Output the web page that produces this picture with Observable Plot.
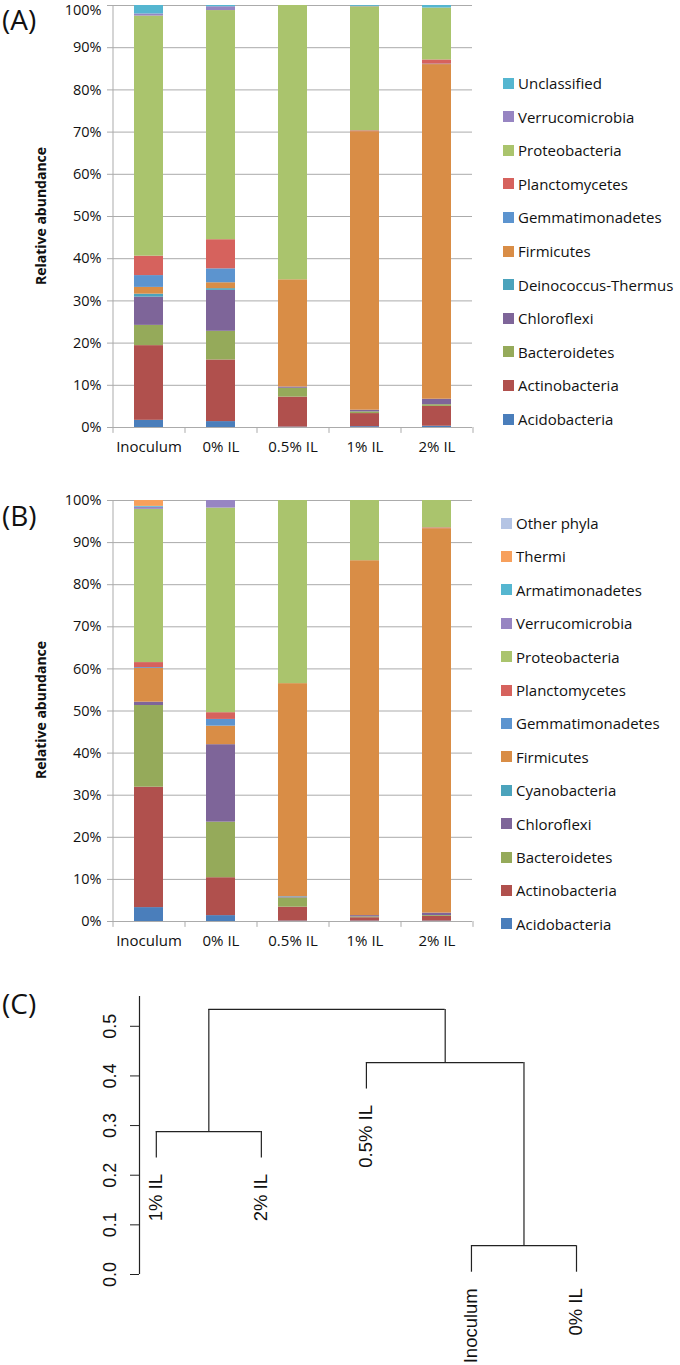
<!DOCTYPE html>
<html><head><meta charset="utf-8">
<script src="https://cdn.jsdelivr.net/npm/d3@7"></script>
<script src="https://cdn.jsdelivr.net/npm/@observablehq/plot@0.6"></script>
<style>
body{margin:0;background:#fff;}
#root{position:relative;width:680px;height:1365px;overflow:hidden;font-family:"Open Sans",sans-serif;color:#111;background:#fff;}
.panel{position:absolute;left:0;}
.tag{position:absolute;left:2px;font-family:"Open Sans",sans-serif;font-size:28px;line-height:normal;color:#111;}
.ytitle{position:absolute;font-family:"Open Sans",sans-serif;font-weight:bold;font-size:14px;white-space:nowrap;transform:translate(-50%,-50%) rotate(-90deg);}
.leg{position:absolute;display:flex;align-items:center;height:20px;font-size:15px;white-space:nowrap;color:#111;}
.sw{width:11px;height:11px;margin-right:4px;flex:none;}
</style></head><body><div id="root"></div>
<script>
// ---------- DATA ----------
const samples = ["Inoculum", "0% IL", "0.5% IL", "1% IL", "2% IL"];

// Panel A: phyla from bottom of stack to top
const phylaA = ["Acidobacteria", "Actinobacteria", "Bacteroidetes", "Chloroflexi", "Deinococcus-Thermus",
  "Firmicutes", "Gemmatimonadetes", "Planctomycetes", "Proteobacteria", "Verrucomicrobia", "Unclassified"];
const colorsA = ["#4A7EBB", "#B0504D", "#95AA5A", "#7E6599", "#4BA3BC",
  "#D98D46", "#5C94CF", "#D6625D", "#AAC46D", "#9785C2", "#55B6D0"];
// % relative abundance, one row per phylum, columns = samples
const abundanceA = [
  [1.7, 1.4, 0.1, 0.2, 0.3],
  [17.7, 14.6, 7.1, 3.1, 4.7],
  [4.8, 6.8, 2.1, 0.4, 0.4],
  [6.7, 9.7, 0.3, 0.4, 1.3],
  [0.7, 0.4, 0, 0, 0],
  [1.6, 1.4, 25.4, 66.0, 79.3],
  [2.8, 3.3, 0, 0, 0.1],
  [4.6, 6.9, 0, 0.2, 1.0],
  [56.9, 54.3, 65.0, 29.4, 12.3],
  [0.5, 0.9, 0, 0.1, 0],
  [2.0, 0.3, 0, 0.2, 0.6]
];

// Panel B
const phylaB = ["Acidobacteria", "Actinobacteria", "Bacteroidetes", "Chloroflexi", "Cyanobacteria",
  "Firmicutes", "Gemmatimonadetes", "Planctomycetes", "Proteobacteria", "Verrucomicrobia",
  "Armatimonadetes", "Thermi", "Other phyla"];
const colorsB = ["#4A7EBB", "#B0504D", "#95AA5A", "#7E6599", "#4BA3BC",
  "#D98D46", "#5C94CF", "#D6625D", "#AAC46D", "#9785C2",
  "#55B6D0", "#F7A05C", "#B4C4E4"];
const abundanceB = [
  [3.3, 1.4, 0.1, 0.1, 0.1],
  [28.6, 9.0, 3.3, 0.8, 1.1],
  [19.4, 13.2, 2.2, 0.2, 0.2],
  [0.8, 18.4, 0.2, 0.3, 0.6],
  [0, 0, 0.1, 0, 0],
  [8.0, 4.4, 50.6, 84.3, 91.3],
  [0.2, 1.6, 0, 0, 0],
  [1.2, 1.6, 0, 0, 0.2],
  [36.4, 48.6, 43.5, 14.3, 6.5],
  [0.5, 1.8, 0, 0, 0],
  [0.2, 0, 0, 0, 0],
  [1.4, 0, 0, 0, 0],
  [0, 0, 0, 0, 0]
];
const yTicksPct = [0, 10, 20, 30, 40, 50, 60, 70, 80, 90, 100];

// Panel C: dendrogram (hclust-style)
const leafOrder = ["1% IL", "2% IL", "0.5% IL", "Inoculum", "0% IL"];
const mergeLeft = ["Inoculum", "1% IL", "0.5% IL", 2];   // numbers refer to earlier merges (1-based)
const mergeRight = ["0% IL", "2% IL", 1, 3];
const mergeHeight = [0.058, 0.288, 0.427, 0.534];
const dendroTicks = [0, 0.1, 0.2, 0.3, 0.4, 0.5];

// ---------- RENDER ----------
const root = document.getElementById("root");
const gray = "#ababab";

function addTag(text, top) {
  const d = document.createElement("div");
  d.className = "tag"; d.textContent = text; d.style.top = top + "px";
  root.appendChild(d);
}
function addYTitle(text, cx, cy) {
  const d = document.createElement("div");
  d.className = "ytitle"; d.textContent = text;
  d.style.left = cx + "px"; d.style.top = cy + "px";
  root.appendChild(d);
}
function addLegend(phyla, colors, x, yStart, step) {
  const n = phyla.length;
  for (let k = 0; k < n; k++) {
    const i = n - 1 - k; // top of legend = top of stack
    const row = document.createElement("div");
    row.className = "leg";
    row.style.left = x + "px";
    row.style.top = (yStart + k * step - 10) + "px";
    const sw = document.createElement("span");
    sw.className = "sw"; sw.style.background = colors[i];
    const t = document.createElement("span"); t.textContent = phyla[i];
    row.appendChild(sw); row.appendChild(t);
    root.appendChild(row);
  }
}

function barPanel(phyla, colors, values, top, height, marginTop, marginBottom, topLabelDy) {
  const data = [];
  phyla.forEach((p, i) => samples.forEach((s, j) => data.push({sample: s, phylum: p, value: values[i][j]})));
  const chart = Plot.plot({
    width: 680, height,
    marginLeft: 112, marginRight: 208, marginTop, marginBottom,
    style: {fontFamily: '"Open Sans", sans-serif', fontSize: "14.5px", color: "#111", background: "transparent", overflow: "visible"},
    x: {domain: samples, paddingInner: 0.6, paddingOuter: 0.3, label: null},
    y: {domain: [0, 100], label: null},
    color: {domain: phyla, range: colors},
    marks: [
      Plot.gridY(yTicksPct, {stroke: gray, strokeOpacity: 1, strokeWidth: 1}),
      Plot.axisY(yTicksPct, {tickSize: 5, tickPadding: 6, stroke: gray, tickFormat: d => d === 100 ? "" : d + "%", label: null}),
      Plot.axisY(yTicksPct.slice(-1), {tickSize: 0, tickPadding: 11, tickFormat: d => d + "%", label: null, dy: topLabelDy}),
      Plot.barY(data, {x: "sample", y: "value", fill: "phylum"}),
      Plot.ruleX([samples[0]], {x: d => d, dx: -36, y1: 0, y2: 100, stroke: gray}),
      Plot.ruleX(samples, {x: d => d, dx: -36, y1: -1.4, y2: 0, stroke: gray}),
      Plot.ruleX([samples[samples.length - 1]], {x: d => d, dx: 36, y1: -1.4, y2: 0, stroke: gray}),
      Plot.axisX({tickSize: 0, tickPadding: 14, label: null, fontSize: 15})
    ]
  });
  chart.classList.add("panel");
  chart.style.top = top + "px";
  root.appendChild(chart);
}

// Panel A
barPanel(phylaA, colorsA, abundanceA, 0, 470, 5, 43, 5);
addTag("(A)", 0);
addYTitle("Relative abundance", 40, 216);
addLegend(phylaA, colorsA, 503, 83, 33.6);

// Panel B
barPanel(phylaB, colorsB, abundanceB, 470, 500, 30, 49, 0);
addTag("(B)", 496);
addYTitle("Relative abundance", 40, 710);
addLegend(phylaB, colorsB, 501, 523, 33.4);

// Panel C: dendrogram
(function () {
  const hang = 0.1 * d3.max(mergeHeight);
  const leafX = new Map(leafOrder.map((l, i) => [l, i + 1]));
  const nodes = []; // merge nodes {x, h}
  const leafEnds = [];
  const hSegs = [], vSegs = [];
  function child(c, h) {
    if (typeof c === "number") return nodes[c - 1];
    const n = {x: leafX.get(c), h: h - hang, name: c};
    leafEnds.push(n);
    return n;
  }
  mergeHeight.forEach((h, k) => {
    const a = child(mergeLeft[k], h), b = child(mergeRight[k], h);
    hSegs.push({x1: a.x, x2: b.x, y: h});
    vSegs.push({x: a.x, y1: a.h, y2: h});
    vSegs.push({x: b.x, y1: b.h, y2: h});
    nodes.push({x: (a.x + b.x) / 2, h});
  });
  const xMin = 0.84;
  const chart = Plot.plot({
    width: 680, height: 385,
    marginLeft: 139, marginRight: 104, marginTop: 16, marginBottom: 91,
    style: {fontFamily: '"Liberation Sans", Arial, sans-serif', fontSize: "18px", color: "#111", background: "transparent", overflow: "visible"},
    x: {domain: [xMin, 5], label: null, axis: null},
    y: {domain: [0, 0.56], label: null},
    marks: [
      Plot.ruleX([xMin], {y1: 0, y2: 0.56, stroke: "#222", strokeWidth: 1.2}),
      Plot.axisY(dendroTicks, {tickRotate: -90, tickSize: 9, tickPadding: 15, stroke: "#222", tickFormat: d3.format(".1f"), label: null}),
      Plot.ruleY(hSegs, {x1: "x1", x2: "x2", y: "y", stroke: "#222", strokeWidth: 1.2}),
      Plot.ruleX(vSegs, {x: "x", y1: "y1", y2: "y2", stroke: "#222", strokeWidth: 1.2}),
      Plot.text(leafEnds, {x: "x", y: "h", text: "name", rotate: -90, textAnchor: "end", lineAnchor: "middle", dy: 16, fill: "#111", fontSize: 18.5})
    ]
  });
  chart.classList.add("panel");
  chart.style.top = "980px";
  root.appendChild(chart);
  addTag("(C)", 984);
})();
</script>
</body></html>
